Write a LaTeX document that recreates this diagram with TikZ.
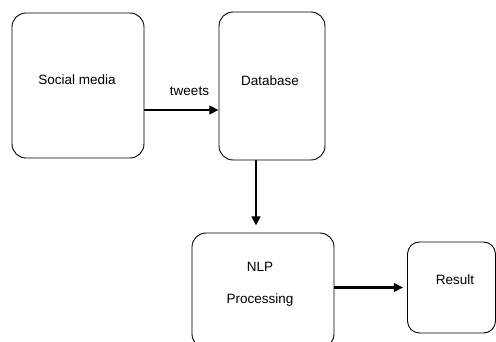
\documentclass[tikz,border=0pt]{standalone}
\usepackage{fontspec}
\setmainfont{Liberation Sans}
\usepackage{tikz}
\usetikzlibrary{arrows.meta,positioning,calc}
\tikzset{
  blk/.style={draw=black,line width=0.9pt,rounded corners=14pt,inner sep=0pt},
  txt/.style={font=\fontsize{13.5}{16}\selectfont,align=center,inner sep=1pt},
  flow/.style={-{Triangle[length=3.2mm,width=3mm]},draw=black,line width=2.4pt},
}
\begin{document}
\begin{tikzpicture}[x=1pt,y=-1pt]
\useasboundingbox (0,0) rectangle (496,342);
% boxes
\node[blk,minimum width=132pt,minimum height=145pt] (social) at (78,85.5) {};
\node[blk,minimum width=106pt,minimum height=148pt] (db) at (272,86) {};
\node[blk,minimum width=142pt,minimum height=115pt] (nlp) at (263,290.5) {};
\node[blk,rounded corners=12pt,minimum width=88pt,minimum height=91pt] (res) at (451.5,287.5) {};
% texts
\node[txt] (socialtxt) at (77,80) {Social media};
\node[txt] (dbtxt) at (270,81) {Database};
\node[txt] (nlptxt) at (260,284.5) {NLP\\[16pt]Processing};
\node[txt] (restxt) at (455,280) {Result};
% flows
\draw[flow] ([yshift=-24.5pt]social.east) -- node[txt,above=12pt,xshift=8pt] (tw) {tweets} ([yshift=-24.5pt]social.east -| db.west);
\draw[flow,shorten >=7pt] ([xshift=-16pt]db.south) -- ([xshift=-16pt]db.south |- nlp.north);
\draw[flow,shorten >=4pt] ([yshift=3pt]nlp.east) -- ([yshift=3pt]nlp.east -| res.west);
\end{tikzpicture}
\end{document}
